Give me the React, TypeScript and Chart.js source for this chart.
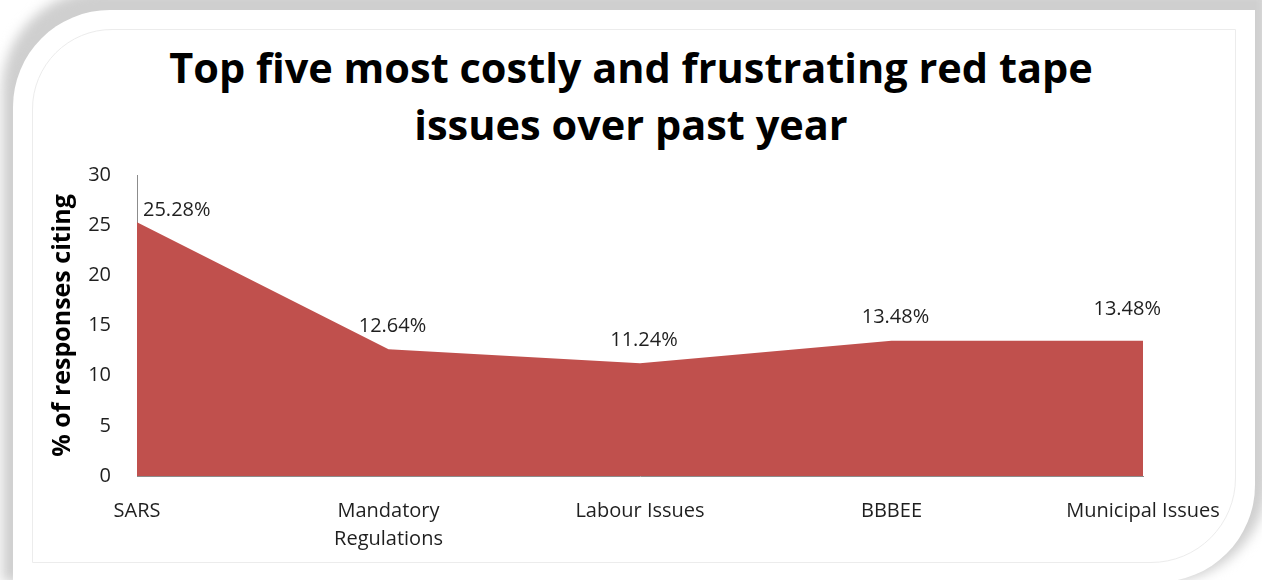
import React, { useEffect, useRef } from "react";
import { Chart, registerables } from "chart.js";

Chart.register(...registerables);

const chartTitle = ["Top five most costly and frustrating red tape", "issues over past year"];
const categories: (string | string[])[] = [
  "SARS",
  ["Mandatory", "Regulations"],
  "Labour Issues",
  "BBBEE",
  "Municipal Issues",
];
const shares = [25.28, 12.64, 11.24, 13.48, 13.48];
const yTicks = [0, 5, 10, 15, 20, 25, 30];
const yAxisTitle = "% of responses citing";

const FONT = "'Open Sans', 'DejaVu Sans', sans-serif";
const AREA = "#C0504D";
const TEXT = "#1f1f1f";

// Percentage labels above each vertex of the area
const valueLabels = {
  id: "valueLabels",
  afterDatasetsDraw(chart: any) {
    const meta = chart.getDatasetMeta(0);
    const ctx = chart.ctx;
    const last = meta.data.length - 1;
    ctx.save();
    ctx.font = `20px ${FONT}`;
    ctx.fillStyle = TEXT;
    ctx.textBaseline = "middle";
    meta.data.forEach((pt: any, i: number) => {
      const text = shares[i].toFixed(2) + "%";
      let x = pt.x + 4;
      let y = pt.y - 23;
      ctx.textAlign = "center";
      if (i === 0) {
        ctx.textAlign = "left";
        x = pt.x + 6;
        y = pt.y - 12;
      } else if (i === last) {
        ctx.textAlign = "right";
        x = pt.x + 18;
        y = pt.y - 31;
      }
      ctx.fillText(text, x, y);
    });
    ctx.restore();
  },
};

function AreaChart() {
  const ref = useRef<HTMLCanvasElement>(null);
  useEffect(() => {
    if (!ref.current) return;
    const chart = new Chart(ref.current, {
      type: "line",
      data: {
        labels: categories,
        datasets: [
          {
            data: shares,
            fill: "origin",
            backgroundColor: AREA,
            borderColor: AREA,
            borderWidth: 0,
            pointRadius: 0,
            tension: 0,
          },
        ],
      },
      options: {
        responsive: false,
        animation: false,
        layout: { padding: { left: 48, right: 119, top: 175, bottom: 20 } },
        plugins: {
          legend: { display: false },
          tooltip: { enabled: false },
          title: { display: false },
        },
        scales: {
          x: {
            offset: false,
            grid: { display: false },
            border: { display: true, color: "#8c8c8c", width: 1 },
            ticks: {
              color: TEXT,
              font: { family: FONT, size: 20, lineHeight: 1.4 },
              padding: 13,
              maxRotation: 0,
              autoSkip: false,
            },
            afterFit(scale: any) {
              scale.height = 84;
            },
          },
          y: {
            min: 0,
            max: 30,
            afterBuildTicks(scale: any) {
              scale.ticks = yTicks.map((v) => ({ value: v }));
            },
            grid: { display: false },
            border: { display: true, color: "#8c8c8c", width: 1 },
            ticks: {
              color: TEXT,
              font: { family: FONT, size: 20 },
              padding: 18,
            },
            title: {
              display: true,
              text: yAxisTitle,
              color: "#000",
              font: { family: FONT, size: 25, weight: "bold" },
              padding: { top: 0, bottom: 0 },
            },
            afterFit(scale: any) {
              scale.width = 89;
            },
          },
        },
      },
      plugins: [valueLabels],
    });
    return () => chart.destroy();
  }, []);
  return <canvas ref={ref} width={1262} height={580} style={{ position: "absolute", left: 0, top: 0 }} />;
}

export default function App() {
  return (
    <div
      style={{
        position: "fixed",
        left: 0,
        top: 0,
        width: 1262,
        height: 580,
        overflow: "hidden",
        background: "#ffffff",
      }}
    >
      <div
        style={{
          position: "absolute",
          left: 2,
          top: -10,
          width: 1266,
          height: 592,
          background: "#cfcfcf",
          borderRadius: "100px 0 105px 0",
          filter: "blur(6px)",
        }}
      />
      <div
        style={{
          position: "absolute",
          left: 13,
          top: 10,
          width: 1242,
          height: 572,
          background: "#ffffff",
          borderRadius: "97px 0 97px 0",
        }}
      />
      <div
        style={{
          position: "absolute",
          left: 32,
          top: 29,
          width: 1204,
          height: 534,
          border: "1px solid #ececec",
          boxSizing: "border-box",
          borderRadius: "80px 0 85px 0",
        }}
      />
      <div
        style={{
          position: "absolute",
          left: 0,
          top: 39,
          width: 1262,
          textAlign: "center",
          fontFamily: FONT,
          fontWeight: "bold",
          fontSize: 41.5,
          lineHeight: "57px",
          color: "#000",
        }}
      >
        {chartTitle.map((line) => (
          <div key={line}>{line}</div>
        ))}
      </div>
      <AreaChart />
    </div>
  );
}
